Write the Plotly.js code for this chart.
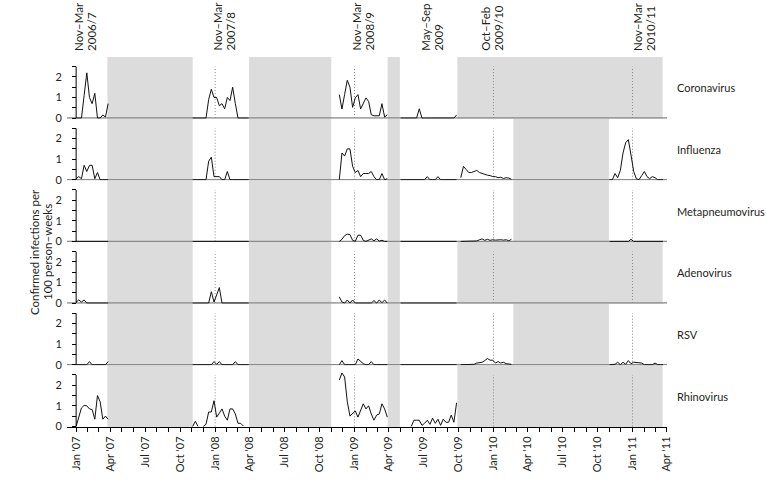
<!DOCTYPE html>
<html>
<head>
<meta charset="utf-8">
<script src="https://cdn.plot.ly/plotly-3.0.1.min.js"></script>
<style>
  body { margin: 0; background: #fff; }
  #chart { width: 766px; height: 480px; }
</style>
</head>
<body>
<div id="chart"></div>
<script>
// weekly data windows (start date of each window, one value per week)
var windowStarts = ['2007-01-01', '2007-11-03', '2008-11-22', '2009-05-02', '2009-10-07', '2010-11-02'];

var viruses = ['Coronavirus', 'Influenza', 'Metapneumovirus', 'Adenovirus', 'RSV', 'Rhinovirus'];

var coronavirus = [
  [0, 0, 0, 1.1, 2.2, 1.0, 0.7, 1.2, 0, 0, 0.15, 0.05, 0.7],
  [0, 0, 0, 0, 0, 0, 0.9, 1.4, 1.0, 1.0, 0.6, 0.7, 0.45, 1.0, 0.85, 1.5, 0.7, 0, 0, 0, 0, 0],
  [1.14, 0.44, 1.15, 1.84, 1.5, 0.52, 0.98, 1.14, 0.44, 0.73, 0.98, 0.81, 0.16, 0.11, 0.11, 0.11, 0.7, 0.05, 0.16],
  [0, 0, 0, 0, 0, 0, 0, 0.45, 0, 0, 0, 0, 0, 0, 0, 0, 0, 0, 0, 0, 0, 0.15],
  null,
  null
];
var influenza = [
  [0.05, 0.15, 0.05, 0.7, 0.4, 0.7, 0.7, 0.05, 0.35, 0, 0, 0, 0],
  [0, 0, 0, 0, 0, 0, 0.9, 1.1, 0.15, 0.15, 0.15, 0, 0, 0.4, 0, 0, 0, 0, 0, 0, 0, 0],
  [0, 1.3, 1.15, 1.5, 1.5, 0.65, 0.35, 0.45, 0.15, 0.3, 0.3, 0.3, 0.4, 0.15, 0, 0, 0.3, 0, 0.05],
  [0, 0, 0, 0, 0, 0, 0, 0, 0, 0, 0.15, 0, 0, 0, 0.15, 0, 0, 0, 0, 0, 0, 0],
  [0.1, 0.65, 0.5, 0.35, 0.35, 0.42, 0.45, 0.35, 0.3, 0.28, 0.22, 0.2, 0.15, 0.15, 0.1, 0.12, 0.06, 0.1, 0.08, 0.02],
  [0, 0, 0.3, 0.1, 0.45, 1.3, 1.8, 1.95, 1.2, 0.4, 0.05, 0, 0.2, 0.4, 0.15, 0.05, 0.15, 0.1, 0, 0, 0]
];
var metapneumovirus = [
  [0, 0, 0, 0, 0, 0, 0, 0, 0, 0, 0, 0, 0],
  [0, 0, 0, 0, 0, 0, 0, 0, 0, 0, 0, 0, 0, 0, 0, 0, 0, 0, 0, 0, 0, 0],
  [0, 0.1, 0.28, 0.35, 0.33, 0.05, 0, 0.3, 0.3, 0.05, 0, 0.05, 0.12, 0.03, 0.12, 0.02, 0.05, 0, 0],
  [0, 0, 0, 0, 0, 0, 0, 0, 0, 0, 0, 0, 0, 0, 0, 0, 0, 0, 0, 0, 0, 0],
  [0, 0, 0, 0, 0, 0, 0.02, 0.08, 0.12, 0.05, 0.1, 0.05, 0.08, 0.06, 0.08, 0.08, 0.06, 0.08, 0.03, 0.1],
  [0, 0, 0, 0, 0, 0, 0, 0, 0.1, 0, 0, 0, 0, 0, 0, 0, 0, 0, 0, 0, 0]
];
var adenovirus = [
  [0.05, 0.15, 0.05, 0.15, 0, 0, 0, 0, 0, 0, 0, 0, 0],
  [0, 0, 0, 0, 0, 0, 0, 0.55, 0.05, 0.4, 0.75, 0, 0, 0, 0, 0, 0, 0, 0, 0, 0, 0],
  [0.3, 0.05, 0, 0.15, 0, 0.15, 0, 0, 0, 0, 0, 0, 0, 0.12, 0, 0.15, 0.02, 0.15, 0],
  [0, 0, 0, 0, 0, 0, 0, 0, 0, 0, 0, 0, 0, 0, 0, 0, 0, 0, 0, 0, 0, 0],
  null,
  null
];
var rsv = [
  [0, 0, 0, 0, 0, 0.15, 0, 0, 0, 0, 0, 0, 0.15],
  [0, 0, 0, 0, 0, 0, 0, 0, 0.15, 0.02, 0.15, 0, 0, 0, 0, 0, 0.15, 0, 0, 0, 0, 0],
  [0, 0.2, 0, 0, 0, 0, 0, 0.28, 0.15, 0.05, 0, 0, 0.15, 0, 0, 0, 0, 0, 0],
  [0, 0, 0, 0, 0, 0, 0, 0, 0, 0, 0, 0, 0, 0, 0, 0, 0, 0, 0, 0, 0, 0],
  [0, 0, 0, 0, 0, 0.02, 0.08, 0.1, 0.12, 0.2, 0.3, 0.22, 0.22, 0.08, 0.15, 0.08, 0.12, 0.05, 0.05, 0.02],
  [0, 0, 0.02, 0.12, 0, 0.12, 0.02, 0.2, 0.05, 0.12, 0.1, 0.1, 0.08, 0, 0, 0, 0, 0.08, 0, 0, 0]
];
var rhinovirus = [
  [0, 0.45, 0.9, 1.02, 1.0, 0.85, 0.82, 0.35, 1.5, 1.2, 0.35, 0.5, 0.35],
  [0, 0.25, 0, null, 0, 0.1, 0.7, 0.7, 1.25, 0.45, 0.65, 0.85, 0.5, 0.3, 0.85, 0.85, 0.6, 0.15, 0.15, 0.02, null, null],
  [2.25, 2.6, 2.4, 1.2, 0.5, 0.65, 0.75, 0.45, 0.75, 1.1, 0.85, 1.0, 0.6, 0.3, 0.55, 0.6, 1.1, 0.85, 0.45],
  [null, null, null, null, 0, 0.3, 0.3, 0.3, 0.05, 0.15, 0.3, 0.1, 0.4, 0.15, 0.35, 0.05, 0.35, 0.2, 0.2, 0.55, 0.2, 1.15],
  null,
  null
];
var series = [coronavirus, influenza, metapneumovirus, adenovirus, rsv, rhinovirus];

// periods without data (grey)
var gapsAll = [['2007-03-24', '2007-11-03'], ['2008-03-30', '2008-11-01'], ['2009-03-29', '2009-04-30']];
var gapLateCAR = ['2009-09-28', '2011-03-21'];   // coronavirus, adenovirus, rhinovirus
var gapLateIMR = ['2010-02-22', '2010-10-31'];   // influenza, metapneumovirus, RSV
var lateGap = [gapLateCAR, gapLateIMR, gapLateIMR, gapLateCAR, gapLateIMR, gapLateCAR];

var newYears = ['2008-01-01', '2009-01-01', '2010-01-01', '2011-01-01'];

var seasonTop = ['Nov–Mar', 'Nov–Mar', 'Nov–Mar', 'May–Sep', 'Oct–Feb', 'Nov–Mar'];
var seasonBottom = ['2006/7', '2007/8', '2008/9', '2009', '2009/10', '2010/11'];
var seasonDates = ['2007-01-24', '2008-01-23', '2009-01-22', '2009-07-23', '2009-12-26', '2011-01-31'];

var yTickVals = [0, 0.5, 1, 1.5, 2, 2.5];
var yTickText = ['0', '', '1', '', '2', ''];

var xStart = '2006-12-08';
var xEnd = '2011-04-01 12:00';
var font = 'Lato, "Noto Sans", sans-serif';
var ink = '#231f20';

function addDays(s, n) {
  var d = new Date(s + 'T00:00:00Z');
  d.setUTCDate(d.getUTCDate() + n);
  return d.toISOString().slice(0, 10);
}

var t0 = new Date(xStart.replace(' ', 'T') + 'Z').getTime();
var t1 = new Date(xEnd.replace(' ', 'T') + 'Z').getTime();
var yAxisPos = (new Date('2007-01-01T00:00:00Z').getTime() - t0) / (t1 - t0);

var data = [];
var shapes = [];
var annotations = [];
var layout = {
  width: 766,
  height: 480,
  margin: {l: 67, r: 99, t: 57, b: 53},
  paper_bgcolor: '#fff',
  plot_bgcolor: 'rgba(0,0,0,0)',
  showlegend: false,
  font: {family: font, size: 11, color: ink},
  xaxis: {
    domain: [0, 1],
    range: [xStart, xEnd],
    anchor: 'y',
    showline: true, linecolor: '#000', linewidth: 1,
    ticks: 'outside', ticklen: 4, tickcolor: '#000',
    tick0: '2007-01-01', dtick: 'M3', tickformat: "%b '%y",
    tickangle: -90,
    tickfont: {family: font, size: 11, color: ink},
    minor: {dtick: 'M1', tick0: '2007-01-01', ticks: 'outside', ticklen: 4, tickcolor: '#000', showgrid: false},
    showgrid: false, zeroline: false
  }
};

for (var r = 0; r < 6; r++) {
  var n = 6 - r;                 // row 1 (top) is y6, bottom row is y
  var yid = n === 1 ? 'y' : 'y' + n;
  var yname = n === 1 ? 'yaxis' : 'yaxis' + n;
  layout[yname] = {
    domain: [(n - 1) / 6, n / 6],
    range: [-0.03, 2.97],
    anchor: 'free', position: yAxisPos,
    tickmode: 'array', tickvals: yTickVals, ticktext: yTickText,
    ticks: 'outside', ticklen: 4, tickcolor: '#000',
    ticklabelstandoff: 8,
    tickfont: {family: font, size: 11, color: ink},
    showgrid: false, zeroline: false, showline: false
  };

  var gaps = gapsAll.concat([lateGap[r]]);
  gaps.forEach(function (g) {
    shapes.push({type: 'rect', xref: 'x', yref: yid + ' domain', x0: g[0], x1: g[1], y0: 0, y1: 1,
      fillcolor: '#dcdcdc', line: {width: 0}, layer: 'below'});
  });
  if (n > 1) {
    shapes.push({type: 'line', xref: 'x', yref: yid, x0: xStart, x1: xEnd, y0: 0, y1: 0,
      line: {color: '#8a8a8a', width: 1.5}, layer: 'below'});
  }
  newYears.forEach(function (d) {
    shapes.push({type: 'line', xref: 'x', yref: yid, x0: d, x1: d, y0: 0, y1: 2.5,
      line: {color: '#888', width: 1, dash: '1px,2px'}, layer: 'below'});
  });
  shapes.push({type: 'line', xref: 'x', yref: yid, x0: '2007-01-01', x1: '2007-01-01', y0: 0, y1: 2.5,
    line: {color: '#000', width: 1}});

  var xs = [], ys = [];
  series[r].forEach(function (vals, w) {
    if (!vals) return;
    vals.forEach(function (v, i) {
      xs.push(addDays(windowStarts[w], 7 * i));
      ys.push(v);
    });
    xs.push(addDays(windowStarts[w], 7 * vals.length - 3));
    ys.push(null);
  });
  data.push({x: xs, y: ys, xaxis: 'x', yaxis: yid, type: 'scatter', mode: 'lines',
    connectgaps: false, line: {color: '#111', width: 1}, hoverinfo: 'skip'});

  annotations.push({xref: 'paper', yref: yid + ' domain', x: (675 - 67) / 600, y: 0.5,
    xanchor: 'left', yanchor: 'middle', showarrow: false, text: viruses[r],
    font: {family: font, size: 11, color: ink}});
}

// y title, two lines
var titleY = (427 - 252) / 370;
annotations.push({xref: 'paper', yref: 'paper', x: (35 - 67) / 600, y: titleY,
  textangle: -90, showarrow: false, xanchor: 'center', yanchor: 'middle',
  text: 'Confirmed infections per', font: {family: font, size: 11.5, color: ink}});
annotations.push({xref: 'paper', yref: 'paper', x: (48 - 67) / 600, y: titleY,
  textangle: -90, showarrow: false, xanchor: 'center', yanchor: 'middle',
  text: '100 person–weeks', font: {family: font, size: 11.5, color: ink}});

// season labels on top
var labelY = (427 - 53) / 370;
for (var s = 0; s < seasonTop.length; s++) {
  annotations.push({xref: 'x', yref: 'paper', x: seasonDates[s], y: labelY,
    xshift: -6.5, textangle: -90, showarrow: false, xanchor: 'center', yanchor: 'bottom',
    text: seasonTop[s], font: {family: font, size: 11.5, color: ink}});
  annotations.push({xref: 'x', yref: 'paper', x: seasonDates[s], y: labelY,
    xshift: 6.5, textangle: -90, showarrow: false, xanchor: 'center', yanchor: 'bottom',
    text: seasonBottom[s], font: {family: font, size: 11.5, color: ink}});
}

layout.shapes = shapes;
layout.annotations = annotations;

Plotly.newPlot('chart', data, layout, {displayModeBar: false, staticPlot: true});
</script>
</body>
</html>
